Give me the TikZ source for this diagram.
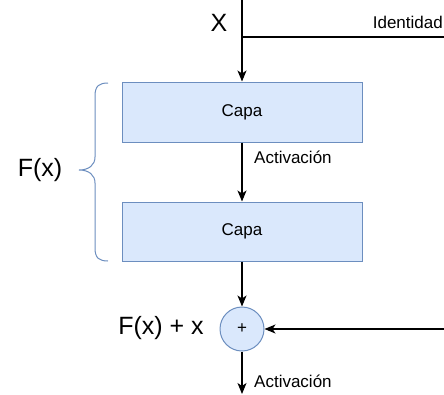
\documentclass[tikz,border=0pt]{standalone}
\usepackage{fontspec}
\setmainfont{Liberation Sans}
\usetikzlibrary{arrows.meta}
\definecolor{boxfill}{HTML}{DAE8FC}
\definecolor{boxline}{HTML}{6C8EBF}
\tikzset{
  layerbox/.style={draw=boxline, fill=boxfill, line width=1pt, minimum width=240pt, minimum height=60pt, inner sep=0pt, font=\fontsize{17}{20}\selectfont},
  sumnode/.style={circle, draw=boxline, fill=boxfill, line width=1pt, minimum size=44pt, inner sep=0pt, font=\fontsize{17}{20}\selectfont},
  small/.style={inner sep=0pt, font=\fontsize{17}{20}\selectfont},
  big/.style={inner sep=0pt, font=\fontsize{25}{30}\selectfont},
  conn/.style={line width=1.2pt, black},
  arr/.style={conn, -{Stealth[length=11pt,width=9pt,inset=3pt]}},
}
\begin{document}
\begin{tikzpicture}[x=1pt,y=-1pt]
\useasboundingbox (0,0) rectangle (444,394);
\node[layerbox] (capa1) at (242,112) {Capa};
\node[layerbox, minimum height=59pt] (capa2) at (242,231.5) {Capa};
\node[sumnode] (sum) at (242,329) {+};
\coordinate (top) at (242,0);
\coordinate (split) at (242,37);
\coordinate (idright) at (444,37);
\coordinate (sumright) at (444,329);
\coordinate (bottom) at (242,394);
\node[big] (xlabel) at (219,23) {X};
\node[small, anchor=east] (ident) at (443,22) {Identidad};
\node[small, anchor=west] (act1) at (254,157) {Activación};
\node[small, anchor=west] (act2) at (254,381) {Activación};
\node[big] (fx) at (40,170) {F(x)};
\node[big] (fxx) at (161,328) {F(x) + x};
\draw[arr] (top) -- (capa1.north);
\draw[conn] (split) -- (idright);
\draw[arr] (capa1.south) -- (capa2.north);
\draw[arr] (capa2.south) -- (sum.north);
\draw[arr] (sumright) -- (sum.east);
\draw[arr] (sum.south) -- (bottom);
\draw[boxline, line width=1pt] (108,83) .. controls (99,83) and (95,86) .. (95,96) -- (95,157)
  .. controls (95,165) and (89,170) .. (79,170)
  .. controls (89,170) and (95,175) .. (95,183) -- (95,248)
  .. controls (95,258) and (99,261) .. (108,261);
\end{tikzpicture}
\end{document}
